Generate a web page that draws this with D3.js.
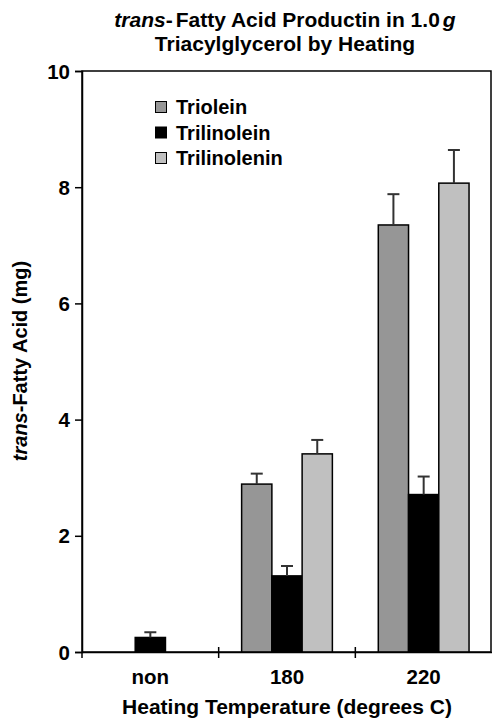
<!DOCTYPE html>
<html><head><meta charset="utf-8">
<script src="https://cdn.jsdelivr.net/npm/d3@7"></script>
<style>body{margin:0;background:#fff}svg{display:block;font-family:"Liberation Sans",Arial,sans-serif}</style>
</head><body><svg id="c" width="492" height="721"></svg>
<script>
const categories = ["non", "180", "220"];
const seriesNames = ["Triolein", "Trilinolein", "Trilinolenin"];
const seriesColors = ["#969696", "#000000", "#c0c0c0"];
const triolein = [0, 2.89, 7.35];
const trilinolein = [0.25, 1.31, 2.71];
const trilinolenin = [0, 3.41, 8.07];
const trioleinErr = [0, 0.18, 0.53];
const trilinoleinErr = [0.09, 0.17, 0.31];
const trilinoleninErr = [0, 0.24, 0.57];
const yTicks = [0, 2, 4, 6, 8, 10];

const values = [triolein, trilinolein, trilinolenin];
const errs = [trioleinErr, trilinoleinErr, trilinoleninErr];

const svg = d3.select("#c");
const L = 82, R = 491, T = 71, B = 652;
const FF = "Liberation Sans, Arial, sans-serif";
const x = d3.scaleBand().domain(categories).range([L, R + 1]).paddingInner(0).paddingOuter(0);
const y = d3.scaleLinear().domain([0, 10]).range([B, T]);
const groupW = x.bandwidth() * 0.664;
const xs = d3.scaleBand().domain(seriesNames).range([0, groupW]);

// frame
svg.append("rect").attr("x", L).attr("y", T).attr("width", R - L).attr("height", B - T)
  .attr("fill", "none").attr("stroke", "#000").attr("stroke-width", 1.5);

// bars
const data = [];
categories.forEach((c, i) => seriesNames.forEach((s, j) => data.push({c, s, j, v: values[j][i], e: errs[j][i]})));
const g = svg.append("g");
data.filter(d => d.v > 0).forEach(d => {
  const bx = x(d.c) + (x.bandwidth() - groupW) / 2 + xs(d.s);
  g.append("rect").attr("x", bx).attr("y", y(d.v)).attr("width", xs.bandwidth()).attr("height", y(0) - y(d.v))
    .attr("fill", seriesColors[d.j]).attr("stroke", "#000").attr("stroke-width", 1.5);
  const cx = bx + xs.bandwidth() / 2;
  g.append("line").attr("x1", cx).attr("x2", cx).attr("y1", y(d.v)).attr("y2", y(d.v + d.e))
    .attr("stroke", "#333").attr("stroke-width", 2);
  g.append("line").attr("x1", cx - 6).attr("x2", cx + 6).attr("y1", y(d.v + d.e)).attr("y2", y(d.v + d.e))
    .attr("stroke", "#333").attr("stroke-width", 2);
});

// y axis
const yAxis = svg.append("g").attr("transform", `translate(${L},0)`)
  .call(d3.axisLeft(y).tickValues(yTicks).tickSize(7).tickPadding(5));
yAxis.select(".domain").attr("stroke", "#000").attr("stroke-width", 1.5);
yAxis.selectAll(".tick line").attr("x2", 0).attr("x1", -7).attr("stroke-width", 1.5);
yAxis.selectAll(".tick text").attr("font-size", 20.5).attr("font-weight", "bold").attr("fill", "#000")
  .attr("x", -12).attr("dy", "0.35em").attr("font-family", FF);

// x axis
const xAxis = svg.append("g").attr("transform", `translate(0,${B})`)
  .call(d3.axisBottom(x).tickSize(0).tickPadding(18));
xAxis.select(".domain").attr("stroke", "#000").attr("stroke-width", 1.5);
xAxis.selectAll(".tick text").attr("font-size", 20.5).attr("font-weight", "bold").attr("fill", "#000")
  .attr("y", 32).attr("dy", 0).attr("font-family", FF);
// boundary ticks
categories.slice(1).forEach(c => {
  svg.append("line").attr("x1", x(c)).attr("x2", x(c)).attr("y1", B - 5).attr("y2", B + 6)
    .attr("stroke", "#000").attr("stroke-width", 1.5);
});
svg.append("line").attr("x1", L).attr("x2", L).attr("y1", B).attr("y2", B + 6).attr("stroke", "#000").attr("stroke-width", 1.5);

// x title
svg.append("text").attr("x", 287).attr("y", 714).attr("text-anchor", "middle")
  .attr("font-size", 21).attr("font-weight", "bold").text("Heating Temperature (degrees C)");

// y title
const yt = svg.append("text").attr("transform", "translate(27,361) rotate(-90)").attr("text-anchor", "middle")
  .attr("font-size", 20).attr("font-weight", "bold");
yt.append("tspan").attr("font-style", "italic").text("trans");
yt.append("tspan").text("-Fatty Acid (mg)");

// title
const t1 = svg.append("text").attr("x", 285).attr("y", 27).attr("text-anchor", "middle")
  .attr("font-size", 21).attr("font-weight", "bold");
t1.append("tspan").attr("font-style", "italic").text("trans");
t1.append("tspan").text("-");
t1.append("tspan").attr("dx", 3).text("Fatty Acid Productin in 1.0");
t1.append("tspan").attr("dx", 3).attr("font-style", "italic").text("g");
svg.append("text").attr("x", 285).attr("y", 51).attr("text-anchor", "middle")
  .attr("font-size", 21).attr("font-weight", "bold").text("Triacylglycerol by Heating");

// legend
const lg = svg.append("g");
seriesNames.forEach((s, j) => {
  const yy = 107 + j * 25.5;
  lg.append("rect").attr("x", 155.5).attr("y", yy - 5.5).attr("width", 11).attr("height", 11)
    .attr("fill", seriesColors[j]).attr("stroke", "#000").attr("stroke-width", 1);
  lg.append("text").attr("x", 176).attr("y", yy + 7).attr("font-size", 20).attr("font-weight", "bold").text(s);
});
</script></body></html>
